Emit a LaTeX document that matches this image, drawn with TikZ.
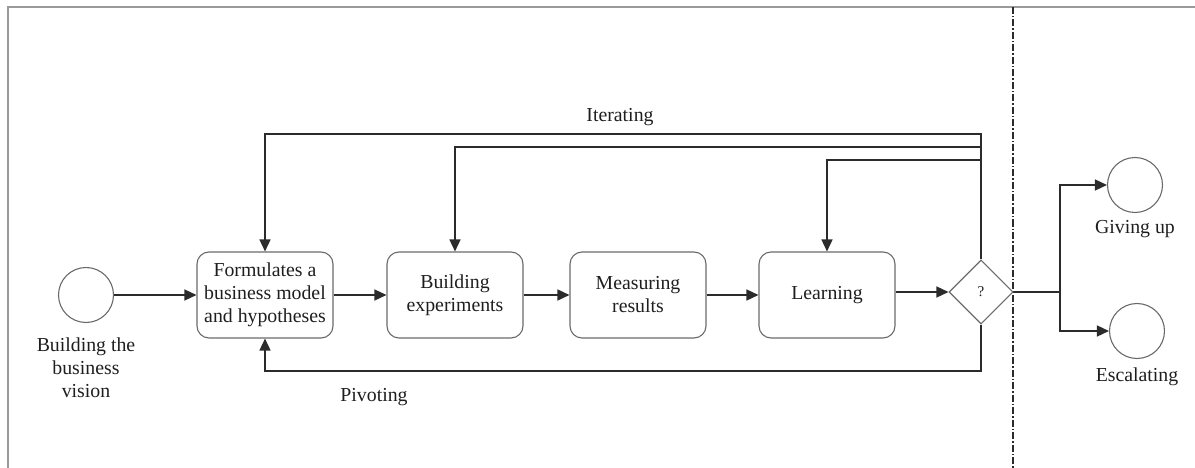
\documentclass[tikz,border=0pt]{standalone}
\usepackage{fontspec}
\setmainfont{Liberation Serif}
\usetikzlibrary{arrows.meta,shapes.geometric,calc}
\definecolor{linec}{HTML}{2B2B2B}
\definecolor{boxc}{HTML}{6A6A6A}
\definecolor{framec}{HTML}{9A9A9A}
\definecolor{textc}{HTML}{1E1E1E}
\begin{document}
\begin{tikzpicture}[x=1pt,y=-1pt,
  every node/.style={font=\fontsize{19.8}{23}\selectfont, text=textc},
  task/.style={draw=boxc, line width=1.1pt, rounded corners=12pt, minimum width=136pt, minimum height=86pt, align=center, inner sep=2pt},
  event/.style={draw=boxc, line width=1.1pt, circle, minimum size=55pt, inner sep=0pt},
  gate/.style={draw=boxc, line width=1.1pt, diamond, minimum width=64pt, minimum height=64pt, inner sep=0pt, font=\fontsize{15}{18}\selectfont},
  conn/.style={draw=linec, line width=1.5pt},
  arr/.style={conn, -{Triangle[length=12pt,width=11pt]}},
  lbl/.style={align=center, inner sep=0pt}]
\useasboundingbox (0,0) rectangle (1195,468);
% frame
\draw[framec, line width=1.2pt] (8,468) -- (8,7) -- (1195,7);
\draw[linec, line width=1.2pt, dash pattern=on 7pt off 2pt on 1.5pt off 2pt] (1013,7) -- (1013,468);

% nodes
\node[event] (start) at (86,295) {};
\node[lbl] (startl) at (86,368) {Building the\\business\\vision};
\node[task] (f) at (265,295) {Formulates a\\business model\\and hypotheses};
\node[task] (b) at (455,295) {Building\\experiments};
\node[task] (m) at (638,295) {Measuring\\results};
\node[task] (l) at (827,295) {Learning};
\node[gate] (q) at (981,292) {?};
\node[event] (g) at (1135,185) {};
\node[event] (e) at (1137,331) {};
\node[lbl] (gl) at (1135,229) {Giving up};
\node[lbl] (el) at (1137,377) {Escalating};
\node[lbl] (itl) at (620,117) {Iterating};
\node[lbl] (pvl) at (374,397) {Pivoting};

% helper coordinates
\coordinate (y1) at (0,134);
\coordinate (y2) at (0,147);
\coordinate (y3) at (0,160);
\coordinate (y4) at (0,371);
\coordinate (j) at (1060,292);

% connectors
\draw[arr] (start.east) -- (f.west);
\draw[arr] (f.east) -- (b.west);
\draw[arr] (b.east) -- (m.west);
\draw[arr] (m.east) -- (l.west);
\draw[arr] (l.east |- q.west) -- (q.west);
\draw[arr] (q.north) |- (f.north |- y1) -- (f.north);
\draw[arr] (q.north |- y1) |- (b.north |- y2) -- (b.north);
\draw[arr] (q.north |- y2) |- (l.north |- y3) -- (l.north);
\draw[arr] (q.south) |- (f.south |- y4) -- (f.south);
\draw[conn] (q.east) -- (j);
\draw[arr] (j) |- (g.west);
\draw[arr] (j) |- (e.west);
\end{tikzpicture}
\end{document}
